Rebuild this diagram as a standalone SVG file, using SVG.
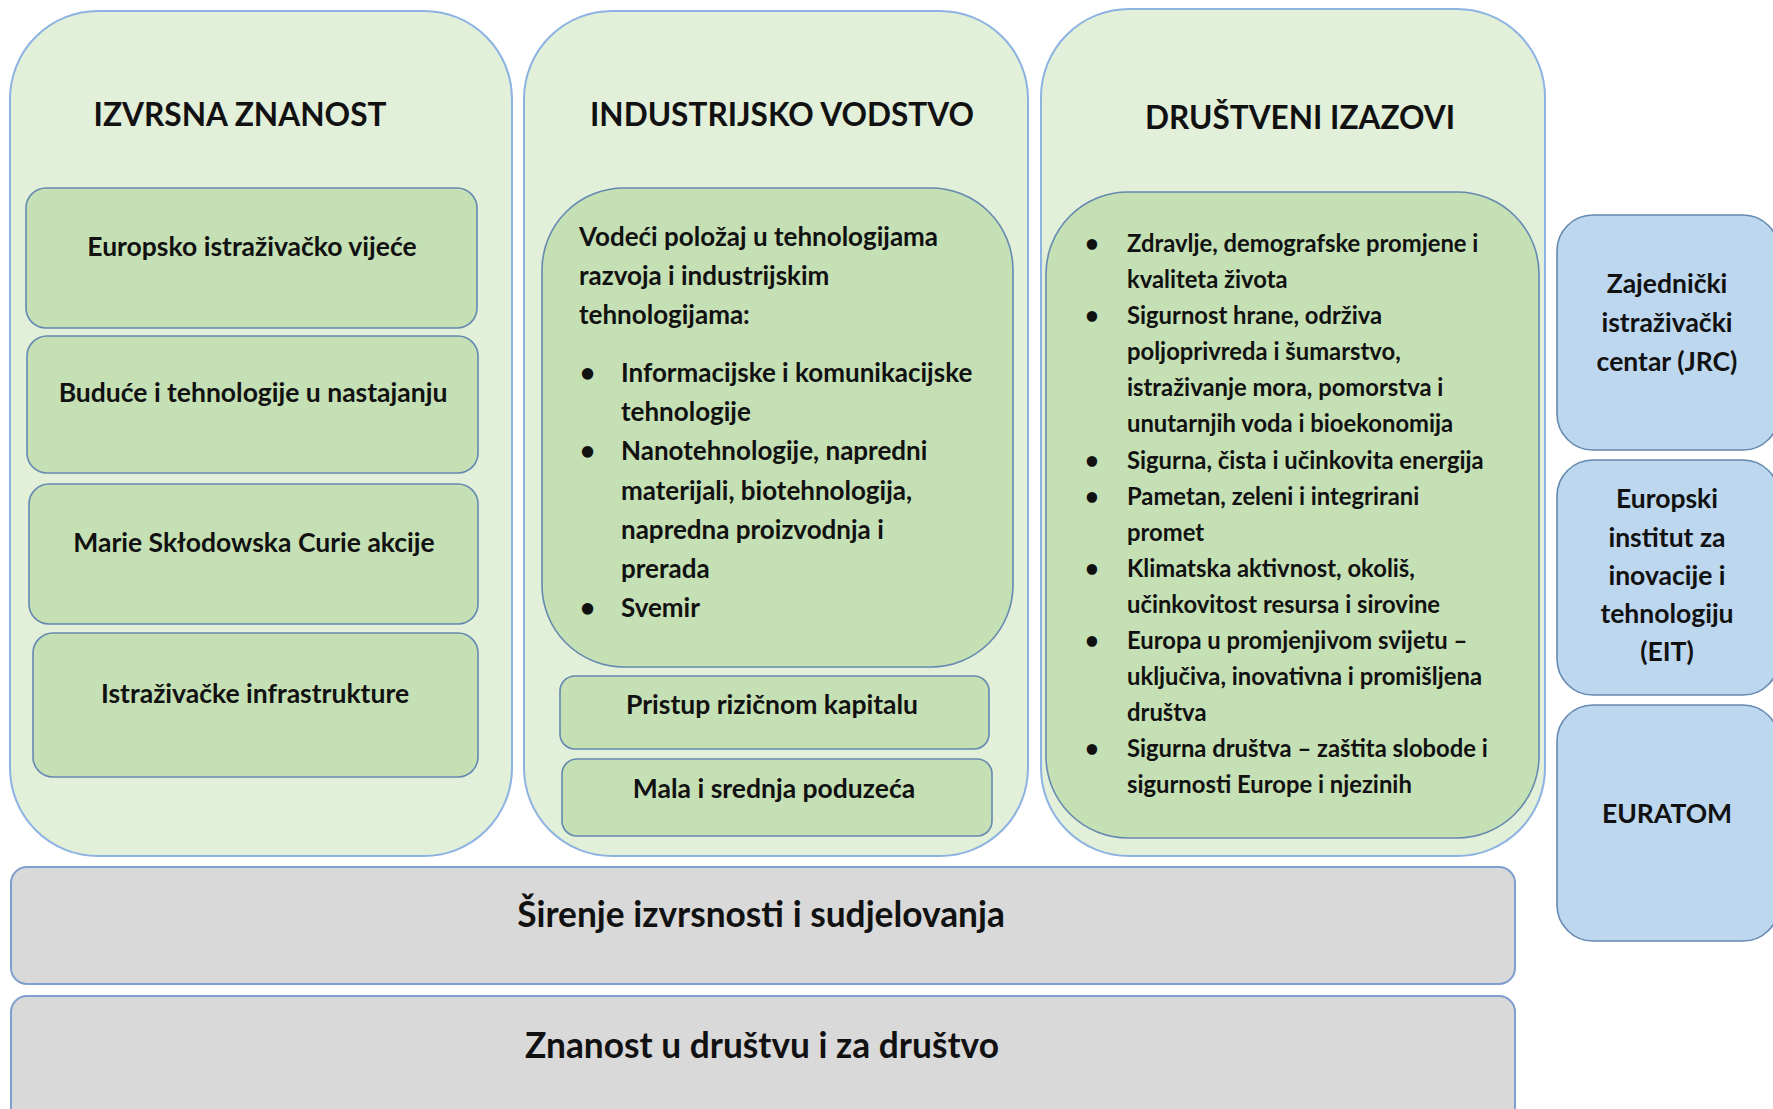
<svg xmlns="http://www.w3.org/2000/svg" width="1773" height="1109" viewBox="0 0 1773 1109">
<style>
.col{fill:#e2efd9;stroke:#8db3e2;stroke-width:2}
.box{fill:#c5e0b4;stroke:#6589b0;stroke-width:1.6}
.side{fill:#bdd7ee;stroke:#6589b0;stroke-width:1.6}
.bar{fill:#d9d9d9;stroke:#7f9fcf;stroke-width:2}
text{font-family:Lato,"Open Sans","Liberation Sans",sans-serif;font-weight:bold;fill:#111}
.title{font-size:33px;text-anchor:middle}
.lbl{font-size:26.5px;text-anchor:middle}
.p2{font-size:26px}
.p3{font-size:23.8px}
.sl{font-size:26.5px;text-anchor:middle}
.big{font-size:35.3px;text-anchor:middle}
</style>

<g id="izvrsna-znanost">
<rect class="col" x="10" y="11" width="502" height="845" rx="88" ry="88"/>
<text class="title" x="240" y="126" textLength="293" lengthAdjust="spacingAndGlyphs">IZVRSNA ZNANOST</text>
</g>
<g id="erc">
<rect class="box" x="26" y="188" width="451" height="140" rx="20"/>
<text class="lbl" x="252" y="256">Europsko istraživačko vijeće</text>
</g>
<g id="fet">
<rect class="box" x="27" y="336" width="451" height="137" rx="20"/>
<text class="lbl" x="253" y="402">Buduće i tehnologije u nastajanju</text>
</g>
<g id="msca">
<rect class="box" x="29" y="484" width="449" height="140" rx="20"/>
<text class="lbl" x="254" y="552">Marie Skłodowska Curie akcije</text>
</g>
<g id="infra">
<rect class="box" x="33" y="633" width="445" height="144" rx="20"/>
<text class="lbl" x="255" y="703">Istraživačke infrastrukture</text>
</g>

<g id="industrijsko-vodstvo">
<rect class="col" x="524" y="11" width="504" height="845" rx="88" ry="88"/>
<text class="title" x="782" y="126" textLength="384" lengthAdjust="spacingAndGlyphs">INDUSTRIJSKO VODSTVO</text>
</g>
<g id="leit">
<rect class="box" x="542" y="188" width="471" height="479" rx="82" ry="82"/>
<text class="p2" x="579" y="246">Vodeći položaj u tehnologijama</text>
<text class="p2" x="579" y="285">razvoja i industrijskim</text>
<text class="p2" x="579" y="324">tehnologijama:</text>
<text class="p2" x="580" y="382">•</text>
<text class="p2" x="621" y="382">Informacijske i komunikacijske</text>
<text class="p2" x="621" y="421">tehnologije</text>
<text class="p2" x="580" y="460">•</text>
<text class="p2" x="621" y="460">Nanotehnologije, napredni</text>
<text class="p2" x="621" y="500">materijali, biotehnologija,</text>
<text class="p2" x="621" y="539">napredna proizvodnja i</text>
<text class="p2" x="621" y="578">prerada</text>
<text class="p2" x="580" y="617">•</text>
<text class="p2" x="621" y="617">Svemir</text>
</g>
<g id="rizicni-kapital">
<rect class="box" x="560" y="676" width="429" height="73" rx="15"/>
<text class="lbl" x="772" y="714">Pristup rizičnom kapitalu</text>
</g>
<g id="msp">
<rect class="box" x="562" y="759" width="430" height="77" rx="15"/>
<text class="lbl" x="774" y="798">Mala i srednja poduzeća</text>
</g>

<g id="drustveni-izazovi">
<rect class="col" x="1041" y="9" width="504" height="847" rx="88" ry="88"/>
<text class="title" x="1300" y="129" textLength="310" lengthAdjust="spacingAndGlyphs">DRUŠTVENI IZAZOVI</text>
</g>
<g id="izazovi-lista">
<rect class="box" x="1046" y="192" width="493" height="646" rx="82" ry="82"/>
<text class="p3" x="1085" y="252">•</text>
<text class="p3" x="1127" y="252">Zdravlje, demografske promjene i</text>
<text class="p3" x="1127" y="288">kvaliteta života</text>
<text class="p3" x="1085" y="324">•</text>
<text class="p3" x="1127" y="324">Sigurnost hrane, održiva</text>
<text class="p3" x="1127" y="360">poljoprivreda i šumarstvo,</text>
<text class="p3" x="1127" y="396">istraživanje mora, pomorstva i</text>
<text class="p3" x="1127" y="432">unutarnjih voda i bioekonomija</text>
<text class="p3" x="1085" y="469">•</text>
<text class="p3" x="1127" y="469">Sigurna, čista i učinkovita energija</text>
<text class="p3" x="1085" y="505">•</text>
<text class="p3" x="1127" y="505">Pametan, zeleni i integrirani</text>
<text class="p3" x="1127" y="541">promet</text>
<text class="p3" x="1085" y="577">•</text>
<text class="p3" x="1127" y="577">Klimatska aktivnost, okoliš,</text>
<text class="p3" x="1127" y="613">učinkovitost resursa i sirovine</text>
<text class="p3" x="1085" y="649">•</text>
<text class="p3" x="1127" y="649">Europa u promjenjivom svijetu –</text>
<text class="p3" x="1127" y="685">uključiva, inovativna i promišljena</text>
<text class="p3" x="1127" y="721">društva</text>
<text class="p3" x="1085" y="757">•</text>
<text class="p3" x="1127" y="757">Sigurna društva – zaštita slobode i</text>
<text class="p3" x="1127" y="793">sigurnosti Europe i njezinih</text>
</g>

<g id="jrc">
<rect class="side" x="1557" y="215" width="222" height="235" rx="36"/>
<text class="sl" x="1667" y="293">Zajednički</text>
<text class="sl" x="1667" y="332">istraživački</text>
<text class="sl" x="1667" y="371">centar (JRC)</text>
</g>
<g id="eit">
<rect class="side" x="1557" y="460" width="222" height="235" rx="36"/>
<text class="sl" x="1667" y="508">Europski</text>
<text class="sl" x="1667" y="547">institut za</text>
<text class="sl" x="1667" y="585">inovacije i</text>
<text class="sl" x="1667" y="623">tehnologiju</text>
<text class="sl" x="1667" y="661">(EIT)</text>
</g>
<g id="euratom">
<rect class="side" x="1557" y="705" width="222" height="236" rx="36"/>
<text class="sl" x="1667" y="823">EURATOM</text>
</g>

<g id="sirenje">
<rect class="bar" x="11" y="867" width="1504" height="117" rx="16"/>
<text class="big" x="761" y="927">Širenje izvrsnosti i sudjelovanja</text>
</g>
<g id="znanost-drustvo">
<rect class="bar" x="11" y="996" width="1504" height="130" rx="16"/>
<text class="big" x="762" y="1058">Znanost u društvu i za društvo</text>
</g>

<g id="connectors"></g>
</svg>
